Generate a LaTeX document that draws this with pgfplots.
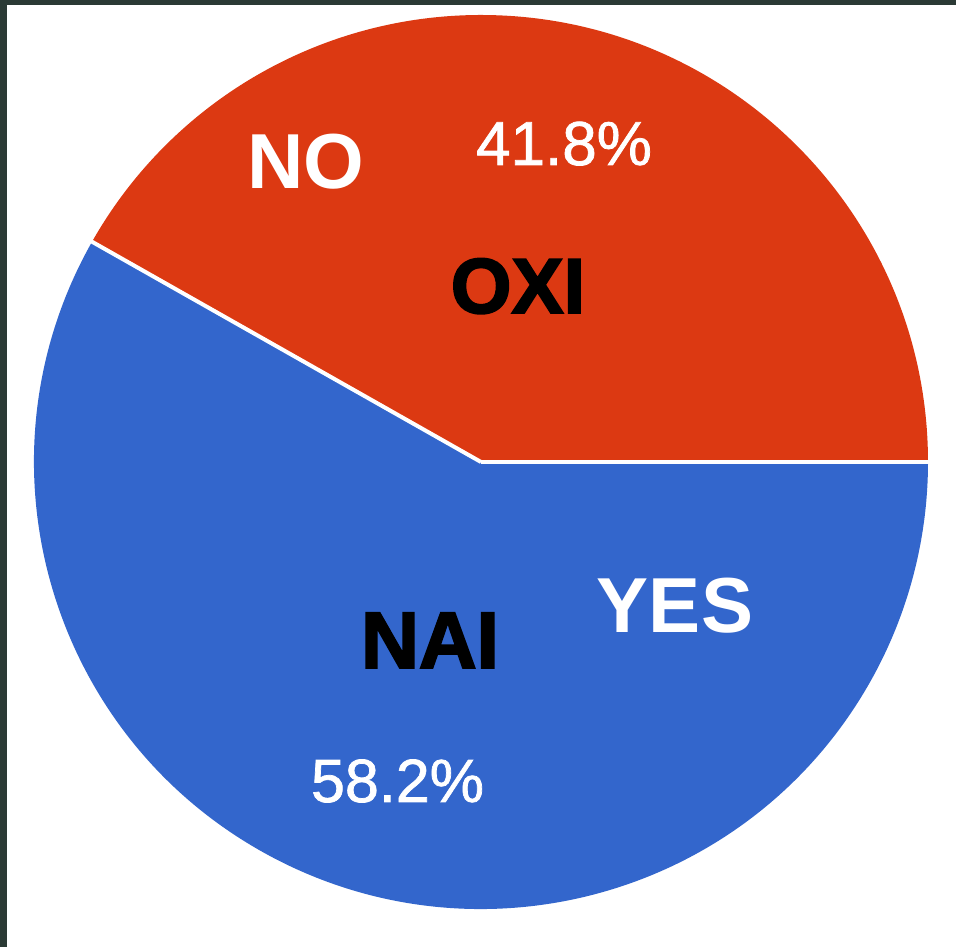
\documentclass[border=0pt]{standalone}
\usepackage{pgfplots}
\pgfplotsset{compat=1.18}
\usepackage{pgfplotstable}
\usepackage{fontspec}
\setmainfont{Liberation Sans}
\newfontfamily\heavyfont[FakeBold=2.5]{Liberation Sans Bold}
\newfontfamily\pctfont[FakeBold=1.2]{Liberation Sans}
\definecolor{pieRed}{HTML}{DC3912}
\definecolor{pieBlue}{HTML}{3366CC}
\definecolor{frameDark}{HTML}{2B3A35}
\pgfplotstableread{
label share
NAI 58.2
OXI 41.8
}\votes
\begin{document}
\begin{tikzpicture}
\pgfplotstablegetelem{0}{share}\of\votes \let\yesShare\pgfplotsretval
\pgfplotstablegetelem{1}{share}\of\votes \let\noShare\pgfplotsretval
\pgfmathsetmacro{\noAngle}{3.6*\noShare}
\begin{axis}[
  hide axis, scale only axis,
  width=956pt, height=947pt,
  xmin=0, xmax=956, ymin=0, ymax=947,
  clip=false,
]
% background and frame
\fill[white] (axis cs:0,0) rectangle (axis cs:956,947);
\fill[frameDark] (axis cs:0,0) rectangle (axis cs:7,947);
\fill[frameDark] (axis cs:0,942) rectangle (axis cs:956,947);
% slices
\fill[pieRed] (axis cs:481,485) -- ++(0:447pt) arc[start angle=0, end angle=\noAngle, radius=447pt] -- cycle;
\fill[pieBlue] (axis cs:481,485) -- ++(\noAngle:447pt) arc[start angle=\noAngle, end angle=360, radius=447pt] -- cycle;
\draw[white, line width=4pt] (axis cs:481,485) -- ++(0:448pt);
\draw[white, line width=4pt] (axis cs:481,485) -- ++(\noAngle:448pt);
% labels
\node[anchor=base, white, inner sep=0pt, font=\fontsize{78}{80}\selectfont\bfseries] at (axis cs:305.5,758) {NO};
\node[anchor=base, white, inner sep=0pt, font=\fontsize{78}{80}\selectfont\bfseries] at (axis cs:675,314) {YES};
\node[anchor=base, white, inner sep=0pt, font=\fontsize{62}{64}\selectfont\pctfont] at (axis cs:564,782) {\noShare\%};
\node[anchor=base, white, inner sep=0pt, font=\fontsize{61}{63}\selectfont\pctfont] at (axis cs:397.5,145) {\yesShare\%};
\node[anchor=base, black, inner sep=0pt, font=\fontsize{78}{80}\selectfont\heavyfont] at (axis cs:518,634) {OXI};
\node[anchor=base, black, inner sep=0pt, font=\fontsize{80}{82}\selectfont\heavyfont] at (axis cs:430,279) {NAI};
\end{axis}
\pgfresetboundingbox
\path[use as bounding box] (current axis.south west) rectangle (current axis.north east);
\end{tikzpicture}
\end{document}
